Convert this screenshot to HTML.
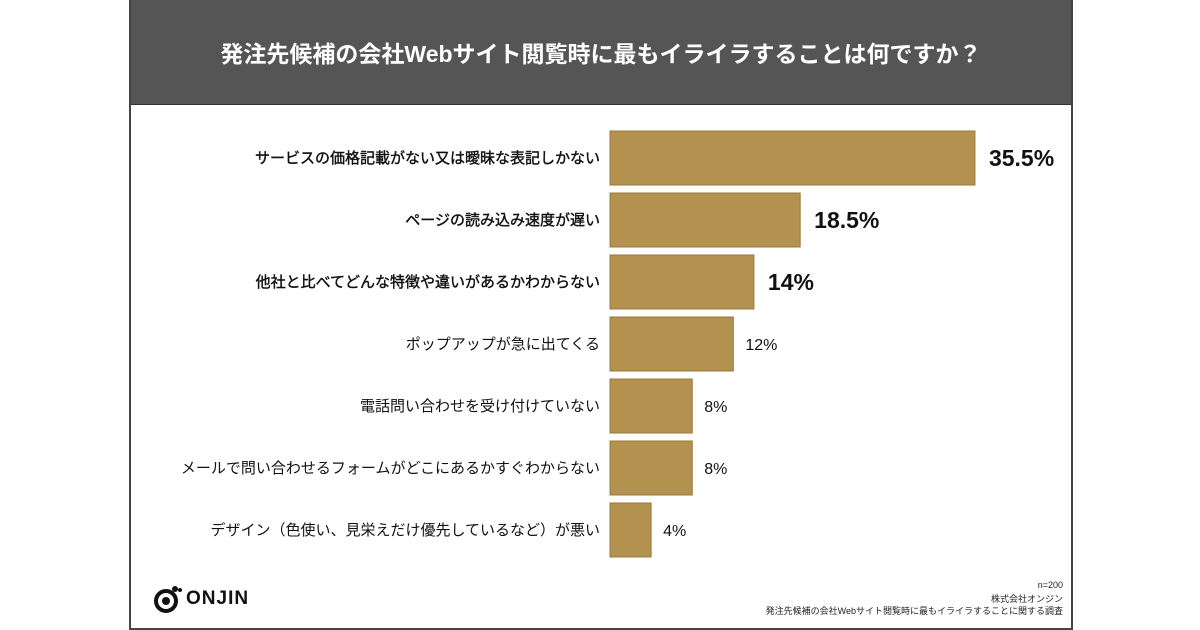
<!DOCTYPE html>
<html><head><meta charset="utf-8"><style>
body{margin:0;width:1200px;height:630px;background:#fff;font-family:"Liberation Sans","Noto Sans CJK JP",sans-serif;overflow:hidden;position:relative}
#card{position:absolute;left:129px;top:-2px;width:940px;height:628px;border:2px solid #444;background:#fff}
#title{position:absolute;left:0;top:0;width:940px;height:104px;background:#555;border-bottom:1px solid #333;color:#fff;font-size:23px;font-weight:bold;text-align:center;line-height:108px}
.foot{position:absolute;right:8px;font-size:9px;color:#222;text-align:right}
</style></head><body>
<div id="card">
<div id="title">発注先候補の会社Webサイト閲覧時に最もイライラすることは何ですか？</div>
<div style="position:absolute;left:22px;top:584px;display:flex;align-items:center">
<svg width="30" height="30" viewBox="0 0 30 30"><circle cx="13" cy="17" r="10" fill="none" stroke="#111" stroke-width="4"/><circle cx="13" cy="17" r="4" fill="#111"/><circle cx="22" cy="5" r="3" fill="#111"/><circle cx="27" cy="6" r="2" fill="#111"/></svg>
<span style="font-size:19px;font-weight:bold;letter-spacing:1px;margin-left:3px;color:#111">ONJIN</span></div>
<div class="foot" style="top:580px">n=200</div>
<div class="foot" style="top:592px">株式会社オンジン</div>
<div class="foot" style="top:604px">発注先候補の会社Webサイト閲覧時に最もイライラすることに関する調査</div>
</div>
<svg id="chart" width="1200" height="630" style="position:absolute;left:0;top:0"></svg>
<script>
const categories=["サービスの価格記載がない又は曖昧な表記しかない","ページの読み込み速度が遅い","他社と比べてどんな特徴や違いがあるかわからない","ポップアップが急に出てくる","電話問い合わせを受け付けていない","メールで問い合わせるフォームがどこにあるかすぐわからない","デザイン（色使い、見栄えだけ優先しているなど）が悪い"];
const values=[35.5,18.5,14,12,8,8,4];
const valueLabels=["35.5%","18.5%","14%","12%","8%","8%","4%"];
const ns="http://www.w3.org/2000/svg";
const svg=document.getElementById('chart');
const x0=610,pxPer=10.28,y0=131,pitch=62,bh=54;
const xs=v=>v*pxPer;
const ys=i=>y0+i*pitch;
values.forEach((v,i)=>{
 const r=document.createElementNS(ns,'rect');
 
 
 r.setAttribute('x',x0);r.setAttribute('y',ys(i));r.setAttribute('width',xs(v));r.setAttribute('height',bh);
 r.setAttribute('fill','#b3914f');r.setAttribute('stroke','#9a7a3c');r.setAttribute('stroke-width','1');
 svg.appendChild(r);
 const t=document.createElementNS(ns,'text');
 
 
 t.setAttribute('x',600);t.setAttribute('y',ys(i)+bh/2+5);t.setAttribute('text-anchor','end');
 t.setAttribute('font-size','15');t.setAttribute('fill','#111');
 if(i<3){t.setAttribute('stroke','#111');t.setAttribute('stroke-width','0.4');}
 t.textContent=categories[i];svg.appendChild(t);
 const l=document.createElementNS(ns,'text');
 
 
 const big=i<3;
 l.setAttribute('x',x0+xs(v)+(big?14:12));l.setAttribute('y',ys(i)+bh/2+(big?8:6));
 l.setAttribute('font-size',big?'23':'16');l.setAttribute('font-weight',big?'bold':'normal');l.setAttribute('fill','#111');
 l.textContent=valueLabels[i];svg.appendChild(l);
});
</script>
</body></html>
